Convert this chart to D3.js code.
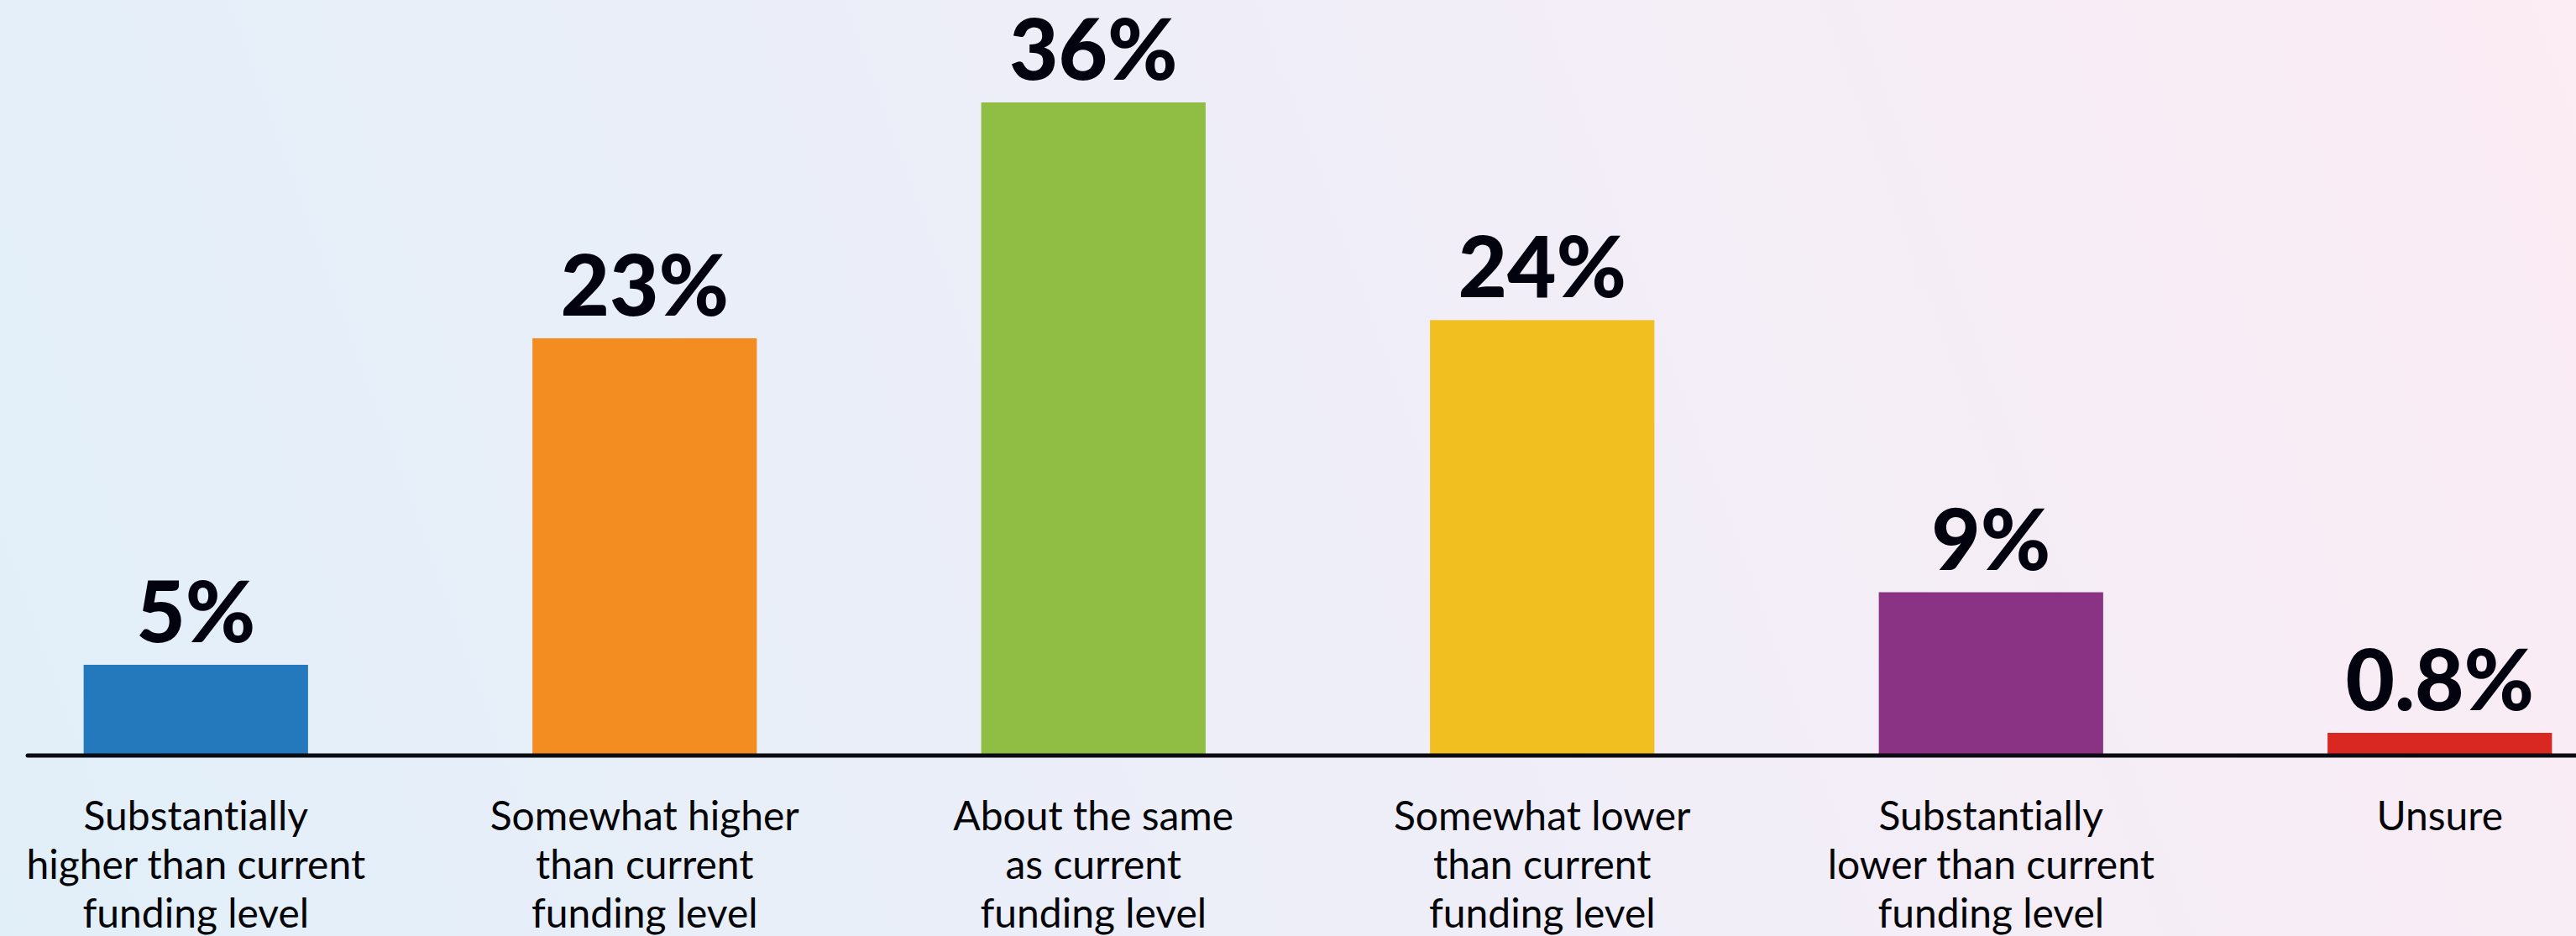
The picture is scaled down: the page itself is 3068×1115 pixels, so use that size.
<!DOCTYPE html>
<html>
<head>
<meta charset="utf-8">
<script src="https://cdn.jsdelivr.net/npm/d3@7.9.0/dist/d3.min.js"></script>
<style>
  html, body { margin: 0; padding: 0; overflow: hidden; }
  svg { display: block; }
  text { font-variant-ligatures: none; }
</style>
</head>
<body>
<svg id="chart"></svg>
<script>
const width = 3068;
const height = 1115;

// data
const categories = ['sub-higher', 'some-higher', 'same', 'some-lower', 'sub-lower', 'unsure'];
const labelLines = [
  ['Substantially', 'higher than current', 'funding level'],
  ['Somewhat higher', 'than current', 'funding level'],
  ['About the same', 'as current', 'funding level'],
  ['Somewhat lower', 'than current', 'funding level'],
  ['Substantially', 'lower than current', 'funding level'],
  ['Unsure']
];
const values = [5, 23, 36, 24, 9, 0.8];
const valueLabels = ['5%', '23%', '36%', '24%', '9%', '0.8%'];
const colors = ['#2479bc', '#f48d21', '#90be44', '#f2bf20', '#8a3385', '#d92722'];

const svg = d3.select('#chart')
  .attr('width', width)
  .attr('height', height);

// soft diagonal background
const defs = svg.append('defs');
const grad = defs.append('linearGradient')
  .attr('id', 'bg')
  .attr('gradientUnits', 'userSpaceOnUse')
  .attr('x1', 0).attr('y1', height)
  .attr('x2', width).attr('y2', 0);
grad.append('stop').attr('offset', '0%').attr('stop-color', '#e1eff9');
grad.append('stop').attr('offset', '50%').attr('stop-color', '#eeeef8');
grad.append('stop').attr('offset', '100%').attr('stop-color', '#fcecf4');

svg.append('rect')
  .attr('width', width)
  .attr('height', height)
  .attr('fill', 'url(#bg)');

const baseY = 900;

const x = d3.scaleBand()
  .domain(categories)
  .range([-34, 3173])
  .paddingInner(0.5)
  .paddingOuter(0.25);

const y = d3.scaleLinear()
  .domain([0, 36])
  .range([baseY, 122]);

const minBar = 27; // keep tiny bars visible

const g = svg.append('g');

g.selectAll('rect.bar')
  .data(values)
  .join('rect')
  .attr('class', 'bar')
  .attr('x', (d, i) => x(categories[i]))
  .attr('width', x.bandwidth())
  .attr('y', d => Math.min(y(d), baseY - minBar))
  .attr('height', d => Math.max(baseY - y(d), minBar))
  .attr('fill', (d, i) => colors[i]);

g.selectAll('text.val')
  .data(values)
  .join('text')
  .attr('class', 'val')
  .attr('x', (d, i) => x(categories[i]) + x.bandwidth() / 2)
  .attr('y', d => Math.min(y(d), baseY - minBar) - 27)
  .attr('text-anchor', 'middle')
  .attr('font-family', 'Lato, sans-serif')
  .attr('font-weight', 900)
  .attr('font-size', 101)
  .attr('fill', '#03030f')
  .text((d, i) => valueLabels[i]);

// baseline
svg.append('line')
  .attr('x1', 33).attr('x2', width + 10)
  .attr('y1', baseY).attr('y2', baseY)
  .attr('stroke', '#0b0b12')
  .attr('stroke-width', 5)
  .attr('stroke-linecap', 'round');

// category labels
const cat = g.selectAll('text.cat')
  .data(labelLines)
  .join('text')
  .attr('class', 'cat')
  .attr('text-anchor', 'middle')
  .attr('font-family', 'Lato, sans-serif')
  .attr('font-size', 48)
  .attr('fill', '#050508');

cat.selectAll('tspan')
  .data((d, i) => d.map(line => ({ line, i })))
  .join('tspan')
  .attr('x', d => x(categories[d.i]) + x.bandwidth() / 2)
  .attr('y', (d, j) => 989 + j * 58)
  .text(d => d.line);
</script>
</body>
</html>
